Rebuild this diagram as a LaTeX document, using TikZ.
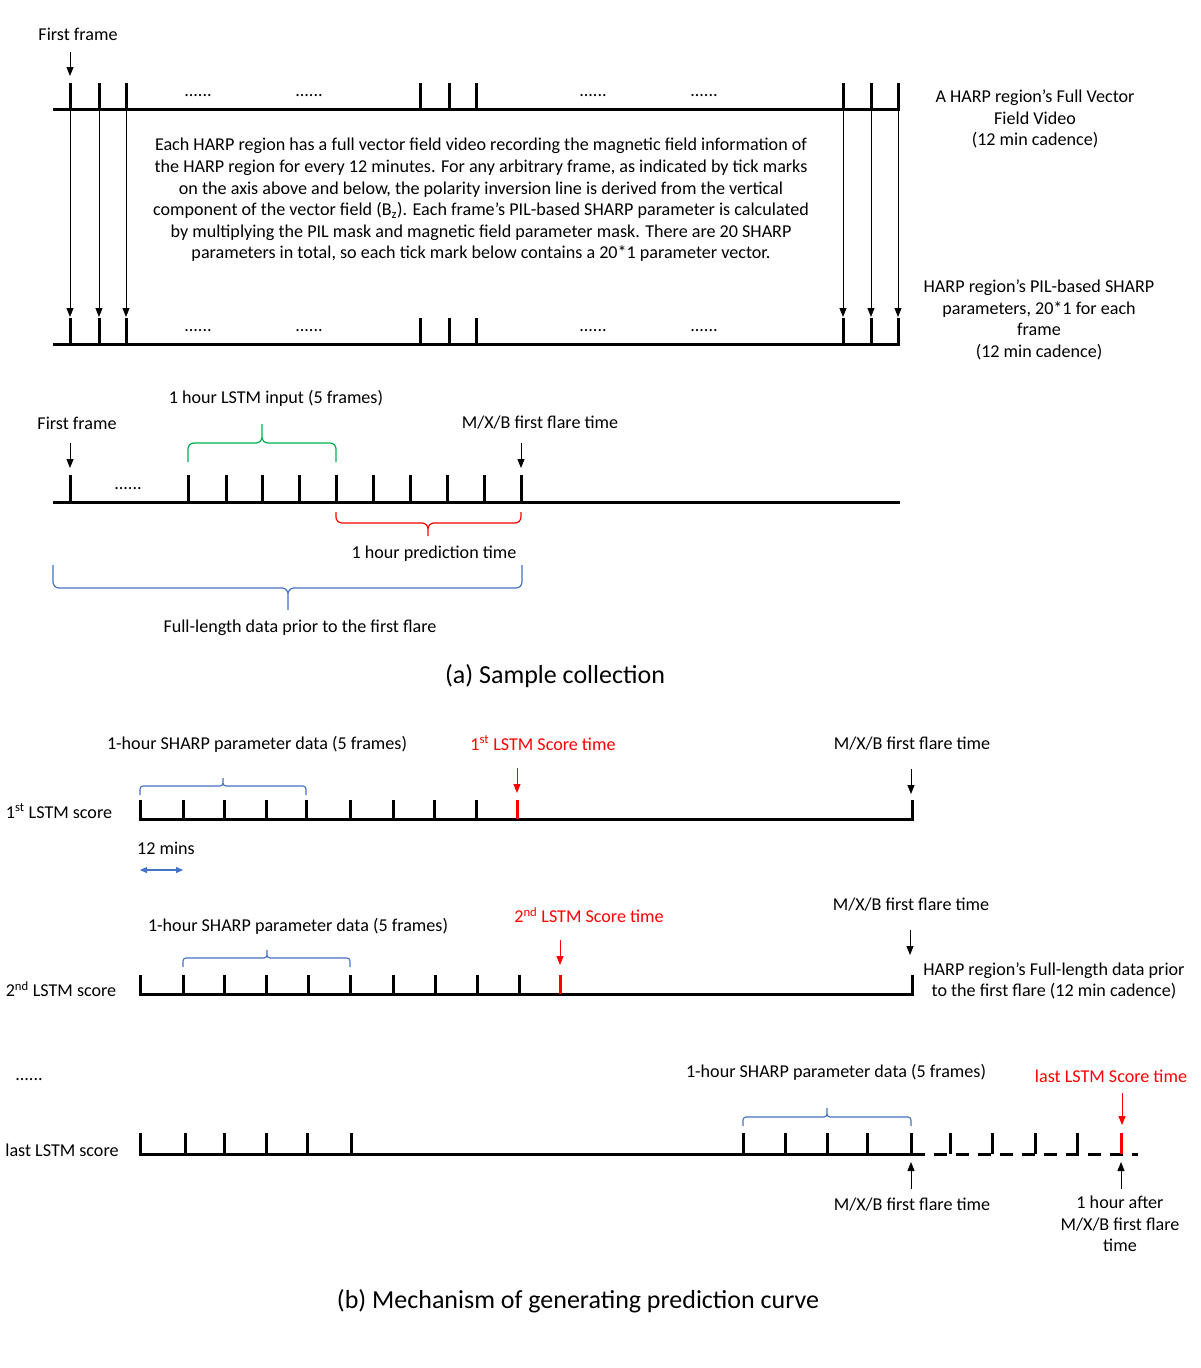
\documentclass[tikz,border=0pt]{standalone}
\usepackage{fontspec}
\setmainfont{Carlito}
\usepackage{tikz}
\usetikzlibrary{arrows.meta,calc}
\definecolor{cInk}{HTML}{000000}
\definecolor{cRed}{HTML}{FF0000}
\definecolor{cGreen}{HTML}{00B050}
\definecolor{cBlue}{HTML}{4472C4}
\tikzset{
  lbl/.style   = {font=\fontsize{18.1}{21.6}\selectfont, inner sep=0pt, align=center},
  redlbl/.style = {lbl, text=cRed},
  captext/.style = {font=\fontsize{26}{31}\selectfont, inner sep=0pt},
  dots/.style  = {lbl, anchor=base},
  axis/.style  = {draw=cInk, line width=3pt},
  tick/.style  = {draw=cInk, line width=3pt},
  redtick/.style = {tick, draw=cRed},
  arr/.style   = {-{Triangle[length=9pt,width=7pt]}, line width=1pt, draw=cInk},
  redarr/.style = {arr, draw=cRed, fill=cRed},
  bigbrace/.style = {line width=1.2pt, rounded corners=6pt},
  smallbrace/.style = {line width=1.1pt, rounded corners=3pt, draw=cBlue},
}

\begin{document}
\begin{tikzpicture}[x=1pt, y=-1pt]
  \useasboundingbox (0,0) rectangle (1200,1368);

  % (a) video frames and SHARP frames
  \draw[axis] (53,109) -- (900,109);
  \draw[axis] (53,344) -- (900,344);
  \foreach \x in {70,99,126,420,449,476,843,871,898} {
    \draw[tick] (\x,83) -- (\x,109);
    \draw[tick] (\x,318) -- (\x,344);
  }
  \foreach \x in {198,309,593,704} {
    \node[dots] (dv\x) at (\x,96) {......};
    \node[dots] (dp\x) at (\x,331) {......};
  }
  \foreach \x [count=\i] in {70,99,126,843,871,898} {
    \coordinate (vf\i) at (\x,109);
    \coordinate (pf\i) at (\x,317);
    \draw[arr] (vf\i) -- (pf\i);
  }
  \node[lbl] (first) at (78,34) {First frame};
  \coordinate (firstA) at (70,52);
  \coordinate (firstB) at (70,76);
  \draw[arr] (firstA) -- (firstB);

  \node[lbl] (expl) at (481,200)
    {Each HARP region has a full vector field video recording the magnetic field information of\\
     the HARP region for every 12 minutes. For any arbitrary frame, as indicated by tick marks\\
     on the axis above and below, the polarity inversion line is derived from the vertical\\
     component of the vector field (B\textsubscript{z}). Each frame’s PIL-based SHARP parameter is calculated\\
     by multiplying the PIL mask and magnetic field parameter mask. There are 20 SHARP\\
     parameters in total, so each tick mark below contains a 20*1 parameter vector.};
  \node[lbl] (video) at (1035,119)
    {A HARP region’s Full Vector\\ Field Video\\ (12 min cadence)};
  \node[lbl] (sharp) at (1039,320)
    {HARP region’s PIL-based SHARP\\ parameters, 20*1 for each\\ frame\\ (12 min cadence)};

  % (a) one sample
  \node[lbl] (input) at (276,398) {1 hour LSTM input (5 frames)};
  \node[lbl] (first2) at (77,423) {First frame};
  \node[lbl] (flare) at (540,423) {M/X/B first flare time};
  \coordinate (f2A) at (70,443);  \coordinate (f2B) at (70,468);
  \coordinate (flA) at (521,443); \coordinate (flB) at (521,468);
  \draw[arr] (f2A) -- (f2B);
  \draw[arr] (flA) -- (flB);
  \draw[axis] (53,502) -- (900,502);
  \foreach \x in {70,188,226,262,299,336,373,410,447,484,521}
    \draw[tick] (\x,475) -- (\x,502);
  \node[dots] (dsample) at (128,489) {......};
  \draw[bigbrace, cGreen] (188,462) -- (188,443) -- (262,443) -- (262,424)
    (336,462) -- (336,443) -- (262,443) -- (262,424);
  \draw[bigbrace, cRed] (336,512) -- (336,523) -- (428,523) -- (428,536)
    (521,512) -- (521,523) -- (428,523) -- (428,536);
  \node[lbl] (pred) at (434,554) {1 hour prediction time};
  \draw[bigbrace, cBlue] (53,565) -- (53,588) -- (288,588) -- (288,610)
    (522,565) -- (522,588) -- (288,588) -- (288,610);
  \node[lbl] (full) at (300,628) {Full-length data prior to the first flare};
  \node[captext] (capa) at (555,676) {(a) Sample collection};

  % (b) first score
  \node[lbl] (data1) at (257,744) {1-hour SHARP parameter data (5 frames)};
  \node[redlbl] (score1) at (543,743) {1\textsuperscript{st} LSTM Score time};
  \node[lbl] (flare1) at (912,744) {M/X/B first flare time};
  \node[lbl] (row1) at (59,811) {1\textsuperscript{st} LSTM score};
  \draw[axis] (140,800) -- (140,819) -- (912,819) -- (912,800);
  \foreach \x in {183,224,266,306,350,393,434,476}
    \draw[tick] (\x,800) -- (\x,819);
  \draw[redtick] (517,800) -- (517,819);
  \draw[smallbrace] (140,795) -- (140,786) -- (223,786) -- (223,778)
    (306,795) -- (306,786) -- (223,786) -- (223,778);
  \coordinate (s1A) at (517,768); \coordinate (s1B) at (517,793);
  \coordinate (m1A) at (911,769); \coordinate (m1B) at (911,794);
  \draw[redarr] (s1A) -- (s1B);
  \draw[arr] (m1A) -- (m1B);
  \node[lbl] (mins) at (166,848) {12 mins};
  \coordinate (minA) at (140,870); \coordinate (minB) at (183,870);
  \draw[{Triangle[length=7pt,width=6pt]}-{Triangle[length=7pt,width=6pt]},
        line width=1.3pt, draw=cBlue] (minA) -- (minB);

  % (b) second score
  \node[lbl] (data2) at (298,926) {1-hour SHARP parameter data (5 frames)};
  \node[redlbl] (score2) at (589,915) {2\textsuperscript{nd} LSTM Score time};
  \node[lbl] (flare2) at (911,905) {M/X/B first flare time};
  \node[lbl] (row2) at (61,989) {2\textsuperscript{nd} LSTM score};
  \draw[axis] (140,975) -- (140,994) -- (912,994) -- (912,975);
  \foreach \x in {183,224,266,308,350,393,435,477,519}
    \draw[tick] (\x,975) -- (\x,994);
  \draw[redtick] (560,975) -- (560,994);
  \draw[smallbrace] (183,967) -- (183,958) -- (267,958) -- (267,950)
    (350,967) -- (350,958) -- (267,958) -- (267,950);
  \coordinate (s2A) at (560,940); \coordinate (s2B) at (560,965);
  \coordinate (m2A) at (910,930); \coordinate (m2B) at (910,955);
  \draw[redarr] (s2A) -- (s2B);
  \draw[arr] (m2A) -- (m2B);
  \node[lbl] (fulllen) at (1054,981)
    {HARP region’s Full-length data prior\\ to the first flare (12 min cadence)};

  % (b) last score
  \node[dots] (drow) at (29,1080) {......};
  \node[lbl] (data3) at (836,1072) {1-hour SHARP parameter data (5 frames)};
  \node[redlbl] (score3) at (1111,1076) {last LSTM Score time};
  \node[lbl] (row3) at (62,1150) {last LSTM score};
  \draw[axis] (140,1133) -- (140,1154) -- (912,1154);
  \draw[axis, dash pattern=on 13pt off 9pt] (912,1154) -- (1138,1154);
  \foreach \x in {185,224,266,307,351,743,785,827,867,911,950,992,1035,1077}
    \draw[tick] (\x,1133) -- (\x,1154);
  \draw[redtick] (1121,1133) -- (1121,1154);
  \draw[smallbrace] (743,1126) -- (743,1117) -- (827,1117) -- (827,1108)
    (911,1126) -- (911,1117) -- (827,1117) -- (827,1108);
  \coordinate (s3A) at (1122,1093); \coordinate (s3B) at (1122,1125);
  \draw[redarr] (s3A) -- (s3B);
  \coordinate (m3A) at (911,1189); \coordinate (m3B) at (911,1162);
  \coordinate (h3A) at (1121,1189); \coordinate (h3B) at (1121,1162);
  \draw[arr] (m3A) -- (m3B);
  \draw[arr] (h3A) -- (h3B);
  \node[lbl] (flare3) at (912,1205) {M/X/B first flare time};
  \node[lbl] (after) at (1120,1224) {1 hour after\\ M/X/B first flare\\ time};
  \node[captext] (capb) at (578,1301) {(b) Mechanism of generating prediction curve};
\end{tikzpicture}
\end{document}
